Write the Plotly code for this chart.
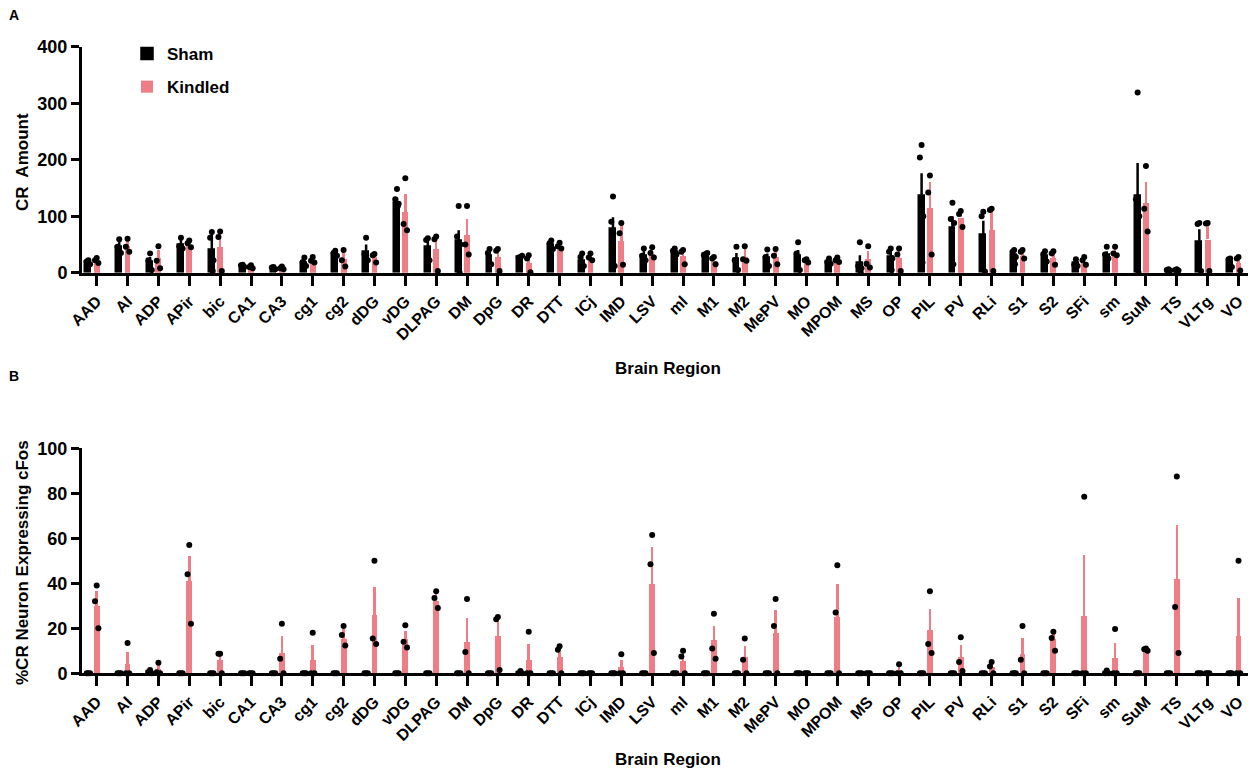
import numpy as np
import plotly.graph_objects as go

regions = ["AAD", "AI", "ADP", "APir", "bic", "CA1", "CA3", "cg1", "cg2", "dDG", "vDG",
           "DLPAG", "DM", "DpG", "DR", "DTT", "ICj", "IMD", "LSV", "ml", "M1", "M2", "MePV",
           "MO", "MPOM", "MS", "OP", "PIL", "PV", "RLi", "S1", "S2", "SFi", "sm", "SuM",
           "TS", "VLTg", "VO"]

# ---------------- Panel A: CR amount ----------------
sham_a_mean = [19, 46, 19, 50, 40, 12, 8, 18, 34, 37, 124, 46, 57, 30, 28, 50, 22, 78, 30, 38,
               33, 24, 26, 30, 20, 18, 28, 137, 80, 68, 31, 30, 17, 32, 137, 5, 55, 19]
sham_a_top = [22, 57, 28, 59, 72, 14, 10, 25, 38, 50, 133, 56, 75, 40, 31, 55, 32, 98, 40, 42,
              35, 35, 34, 40, 24, 31, 42, 176, 100, 92, 38, 35, 22, 38, 194, 6, 77, 24]
sham_a_pts = [[22, 20, 15], [59, 46, 35], [34, 22, 5], [62, 47, 43], [72, 62, 22, 3],
              [14, 13, 10], [10, 9, 6], [27, 19, 12], [39, 35, 30], [62, 33, 22],
              [148, 130, 122, 118], [61, 58, 22], [118, 64, 50, 0], [42, 35, 15], [28, 27, 30],
              [57, 52, 42], [34, 28, 12], [135, 90, 12], [43, 30, 22], [43, 39, 32],
              [33, 31, 35], [46, 22, 5], [41, 28, 12], [54, 34, 5], [25, 19, 16],
              [54, 12, 8, 0], [43, 37, 25, 5], [226, 204, 100, 18], [124, 95, 88, 15],
              [108, 100, 2], [40, 37, 28, 15], [38, 33, 20], [24, 14, 12], [46, 32, 25],
              [319, 130, 100, 0], [6, 5, 4], [88, 86, 3], [25, 24, 10]]

kind_a_mean = [21, 48, 26, 50, 46, 10, 8, 20, 24, 28, 108, 42, 67, 28, 18, 45, 27, 57, 34, 30,
               22, 28, 28, 21, 21, 24, 26, 115, 98, 76, 30, 26, 19, 34, 124, 5, 59, 18]
kind_a_top = [25, 58, 40, 55, 75, 13, 10, 25, 40, 33, 140, 58, 95, 40, 28, 53, 32, 84, 42, 40,
              30, 42, 38, 23, 25, 38, 38, 161, 107, 111, 36, 33, 26, 43, 161, 6, 88, 27]
kind_a_pts = [[26, 22, 17], [60, 46, 37], [47, 21, 8], [57, 52, 45], [73, 63, 3],
              [13, 10, 8], [11, 8, 6], [28, 21, 18], [40, 22, 11], [33, 31, 18],
              [167, 86, 75], [64, 59, 3], [118, 50, 32], [42, 39, 3], [31, 25, 1],
              [53, 47, 43], [34, 27, 22], [88, 70, 14], [45, 35, 27], [40, 37, 15],
              [28, 25, 15], [47, 24, 21], [42, 30, 15], [24, 22, 18], [27, 22, 19],
              [47, 16, 9], [43, 32, 3], [172, 142, 32], [109, 104, 81], [113, 111, 3],
              [40, 37, 25], [38, 34, 14], [28, 22, 14], [46, 34, 31], [189, 113, 73],
              [6, 5, 4], [88, 87, 3], [28, 25, 4]]

# ---------------- Panel B: % CR neurons expressing cFos ----------------
sham_b_mean = [0, 0, 0.7, 0, 0, 0, 0, 0, 0, 0, 0, 0, 0, 0, 0.3, 0, 0, 0, 0, 0, 0, 0, 0, 0, 0,
               0, 0, 0, 0, 0, 0, 0, 0, 0.4, 0, 0, 0, 0]
sham_b_pts = [[0, 0, 0], [0, 0, 0], [1.5, 0.5, 0], [0, 0, 0], [0, 0, 0], [0, 0, 0], [0, 0, 0],
              [0, 0, 0], [0, 0, 0], [0, 0, 0], [0, 0, 0], [0, 0, 0], [0, 0, 0], [0, 0, 0],
              [1, 0, 0], [0, 0, 0], [0, 0, 0], [0, 0, 0], [0, 0, 0], [0, 0, 0], [0, 0, 0],
              [0, 0, 0], [0, 0, 0], [0, 0, 0], [0, 0, 0], [0, 0, 0], [0, 0, 0], [0, 0, 0],
              [0, 0, 0], [0, 0, 0], [0, 0, 0], [0, 0, 0], [0, 0, 0], [1.2, 0, 0], [0, 0, 0],
              [0, 0, 0], [0, 0, 0], [0, 0, 0]]

kind_b_mean = [30, 4, 2, 41, 6, 0, 9, 6, 15, 26, 15, 32, 14, 16.5, 6, 7, 0, 2.5, 39.5, 5.5,
               14.5, 7, 18, 0, 25, 0, 1.2, 19, 7, 2.7, 8.5, 15, 25.5, 6.5, 10.5, 42, 0, 16.5]
kind_b_top = [36.5, 9.5, 3.5, 52, 9, 0, 16.5, 12.5, 19.5, 38.5, 19, 36, 24.5, 24.5, 13, 9.5, 0,
              6, 56, 9.5, 21, 12, 28, 0, 39.5, 0, 3, 28.5, 12.5, 4, 15.5, 18, 52.5, 13.5, 11,
              66, 0, 33.5]
kind_b_pts = [[39, 32, 20], [13.5, 0, 0], [4.7, 0.5, 0], [57, 44, 22], [8.7, 8.7, 0],
              [0, 0, 0], [22, 6.5, 0], [18, 0, 0], [21, 17, 12.3], [50, 15.5, 13],
              [21.4, 14, 11.5], [36.5, 33.5, 29], [33, 9.5, 0], [25, 24, 1.5], [18.5, 0, 0],
              [12, 10.5, 0], [0, 0, 0], [8.5, 0, 0], [61.5, 48.5, 9], [10, 7.5, 0],
              [26.5, 11, 6.5], [15.5, 6, 0], [33, 21, 0], [0, 0, 0], [48, 27, 0], [0, 0, 0],
              [4, 0, 0], [36.5, 13, 9], [16, 5, 1], [5, 3, 0], [21, 6, 0], [18.5, 15.7, 10],
              [78.5, 0, 0], [19.7, 0, 0], [11, 10.7, 10], [87.5, 29.5, 9], [0, 0, 0],
              [50, 0, 0]]

# ---------------- styling ----------------
BLACK = "#000000"
PINK = "#EE7D85"
FONT = "Liberation Sans, Arial, sans-serif"
OFF = 8                      # default page margin of the html body
W, H = 1256 - 2 * OFF, 778 - 2 * OFF
idx = np.arange(len(regions))
SHAM_OFF = -0.27
KIND_OFF = 0.0
BAR_W = 0.19
JITTER = [0.0, -0.055, 0.055, 0.03, -0.03]

X0, DX = 96.7, 30.86          # screen x of first category and category spacing (reference)
AX_L, AX_R = 82, OFF + W      # axis extent on screen


def px(X):
    return (X - OFF) / W


def py(Y):
    return 1 - (Y - OFF) / H


def pts_xy(pts, offset):
    xs, ys = [], []
    for i, group in enumerate(pts):
        for j, v in enumerate(group):
            xs.append(i + offset + JITTER[j % len(JITTER)])
            ys.append(v)
    return xs, ys


fig = go.Figure()


def add_panel(xa, ya, s_mean, s_top, s_pts, k_mean, k_top, k_pts, legend):
    s_mean = np.array(s_mean, float)
    k_mean = np.array(k_mean, float)
    s_err = None if s_top is None else np.array(s_top, float) - s_mean
    k_err = np.array(k_top, float) - k_mean
    fig.add_trace(go.Bar(
        x=idx + SHAM_OFF, y=s_mean, width=BAR_W, name="Sham", xaxis=xa, yaxis=ya,
        marker=dict(color=BLACK, line=dict(color=BLACK, width=1.5)),
        error_y=None if s_err is None else dict(type="data", array=s_err, arrayminus=np.zeros_like(s_err),
                                                symmetric=False, color=BLACK, thickness=2.5, width=0),
        showlegend=legend, legendgroup="sham", cliponaxis=False))
    fig.add_trace(go.Bar(
        x=idx + KIND_OFF, y=k_mean, width=BAR_W, name="Kindled", xaxis=xa, yaxis=ya,
        marker=dict(color=PINK, line=dict(width=0)),
        error_y=dict(type="data", array=k_err, arrayminus=np.zeros_like(k_err), symmetric=False,
                     color=PINK, thickness=2.5, width=0),
        showlegend=legend, legendgroup="kindled", cliponaxis=False))
    for pts, off in ((s_pts, SHAM_OFF), (k_pts, KIND_OFF)):
        xs, ys = pts_xy(pts, off)
        fig.add_trace(go.Scatter(
            x=xs, y=ys, mode="markers", xaxis=xa, yaxis=ya, showlegend=False,
            marker=dict(color=BLACK, size=6), cliponaxis=False, hoverinfo="skip"))


add_panel("x", "y", sham_a_mean, sham_a_top, sham_a_pts, kind_a_mean, kind_a_top, kind_a_pts, True)
add_panel("x2", "y2", sham_b_mean, None, sham_b_pts, kind_b_mean, kind_b_top, kind_b_pts, False)

xdom = [px(AX_L), 1.0]
xrange = [(AX_L - X0) / DX, (AX_R - X0) / DX]
BASE_A, BASE_B = 272.7, 673.3
ydom_a = [py(BASE_A), py(46.7)]
ydom_b = [py(BASE_B), py(448.3)]

xcommon = dict(domain=xdom, range=xrange, tickmode="array",
               tickvals=list(idx), ticktext=regions, ticks="outside", tickangle=-45,
               ticklen=10, tickwidth=3, tickcolor=BLACK, showline=True, linewidth=3,
               linecolor=BLACK, showgrid=False, zeroline=False, automargin=False,
               tickfont=dict(family=FONT, size=16, color=BLACK, weight="bold"))
ycommon = dict(ticks="outside", ticklen=8, tickwidth=3, tickcolor=BLACK, showline=True,
               linewidth=3, linecolor=BLACK, showgrid=False, zeroline=False,
               tickfont=dict(family=FONT, size=18, color=BLACK, weight="bold"), automargin=False)

fig.update_layout(
    width=W, height=H, margin=dict(l=0, r=0, t=0, b=0),
    paper_bgcolor="white", plot_bgcolor="white",
    barmode="overlay", bargap=0,
    xaxis=dict(anchor="y", **xcommon),
    xaxis2=dict(anchor="y2", **xcommon),
    yaxis=dict(domain=ydom_a, anchor="x", range=[0, 400], tickvals=[0, 100, 200, 300, 400], **ycommon),
    yaxis2=dict(domain=ydom_b, anchor="x2", range=[0, 100], tickvals=[0, 20, 40, 60, 80, 100], **ycommon),
    legend=dict(x=px(127), y=py(36), xanchor="left", yanchor="top", bgcolor="rgba(0,0,0,0)",
                font=dict(family=FONT, size=17, color=BLACK, weight="bold"),
                tracegroupgap=8, itemwidth=30, traceorder="grouped"),
    showlegend=True,
)

ann_font = dict(family=FONT, size=17, color=BLACK, weight="bold")
annotations = [
    dict(text="A", x=px(14), y=py(15), font=dict(family=FONT, size=14, color=BLACK, weight="bold")),
    dict(text="B", x=px(14), y=py(376), font=dict(family=FONT, size=14, color=BLACK, weight="bold")),
    dict(text="CR  Amount", x=px(22), y=py(162), textangle=-90, font=ann_font),
    dict(text="%CR Neuron Expressing cFos", x=px(22), y=py(563), textangle=-90, font=ann_font),
    dict(text="Brain Region", x=px(668), y=py(368), font=ann_font),
    dict(text="Brain Region", x=px(668), y=py(759), font=ann_font),
]
for a in annotations:
    a.update(xref="paper", yref="paper", xanchor="center", yanchor="middle", showarrow=False)
fig.update_layout(annotations=annotations)

fig.write_html("out.html")
